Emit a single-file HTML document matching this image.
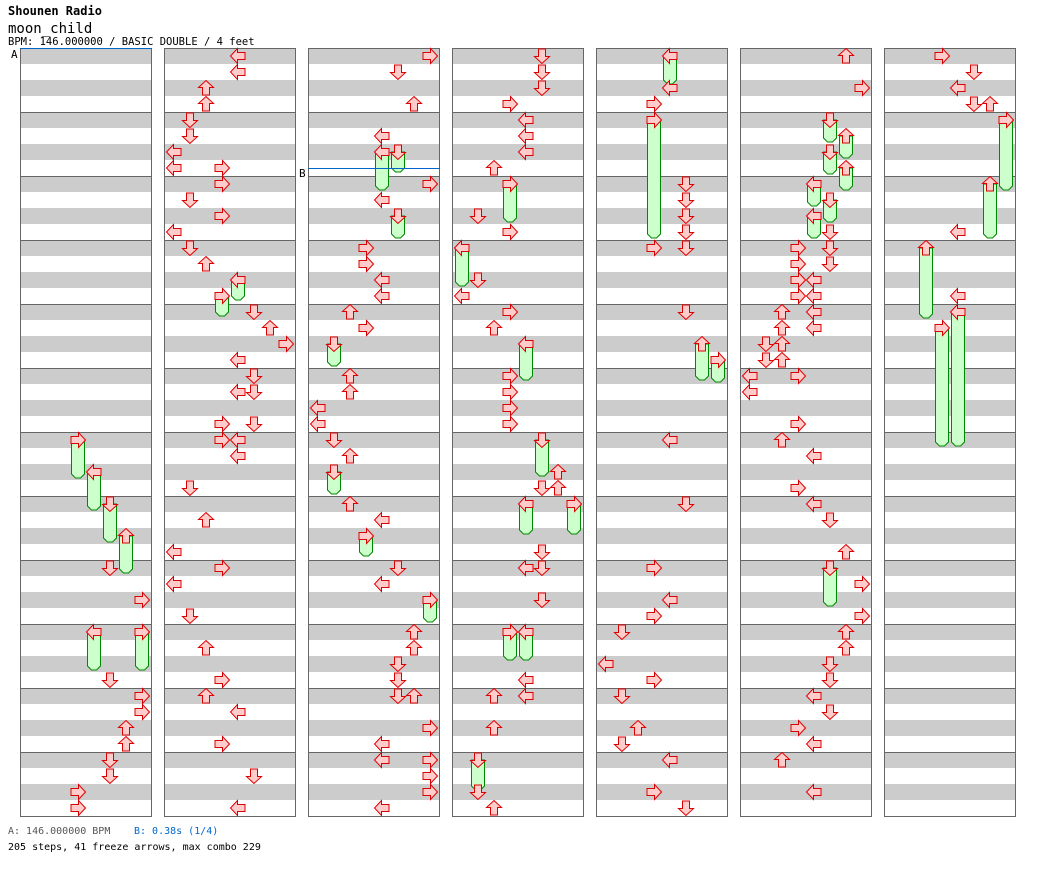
<!DOCTYPE html>
<html><head><meta charset="utf-8"><style>
body{margin:0;background:#fff;width:1040px;height:876px;overflow:hidden;font-family:"DejaVu Sans Mono","Liberation Mono",monospace}
svg{position:absolute;left:0;top:0}
</style></head><body>
<svg id="s" width="1040" height="876" xmlns="http://www.w3.org/2000/svg" font-family="DejaVu Sans Mono, Liberation Mono, monospace"></svg>
<script>
var N=[
[[78,440,478],[94,472,510],[110,504,542],[126,536,573],[110,568],[142,600],[94,632,670],[142,632,670],[110,680],[142,696],[142,712],[126,728],[126,744],[110,760],[110,776],[78,792],[78,808]],
[[238,56],[238,72],[206,88],[206,104],[190,120],[190,136],[174,152],[174,168],[222,168],[222,184],[190,200],[222,216],[174,232],[190,248],[206,264],[238,280,300],[222,296,316],[254,312],[270,328],[286,344],[238,360],[254,376],[238,392],[254,392],[222,424],[254,424],[222,440],[238,440],[238,456],[190,488],[206,520],[174,552],[222,568],[174,584],[190,616],[206,648],[222,680],[206,696],[238,712],[222,744],[254,776],[238,808]],
[[430,56],[398,72],[414,104],[382,136],[382,152,190],[398,152,172],[430,184],[382,200],[398,216,238],[366,248],[366,264],[382,280],[382,296],[350,312],[366,328],[334,344,366],[350,376],[350,392],[318,408],[318,424],[334,440],[350,456],[334,472,494],[350,504],[382,520],[366,536,556],[398,568],[382,584],[430,600,622],[414,632],[414,648],[398,664],[398,680],[398,696],[414,696],[430,728],[382,744],[382,760],[430,760],[430,776],[430,792],[382,808]],
[[542,56],[542,72],[542,88],[510,104],[526,120],[526,136],[526,152],[494,168],[510,184,222],[478,216],[510,232],[462,248,286],[478,280],[462,296],[510,312],[494,328],[526,344,380],[510,376],[510,392],[510,408],[510,424],[542,440,476],[558,472],[542,488],[558,488],[526,504,534],[574,504,534],[542,552],[526,568],[542,568],[542,600],[510,632,660],[526,632,660],[526,680],[494,696],[526,696],[494,728],[478,760,790],[478,792],[494,808]],
[[670,56,84],[670,88],[654,104],[654,120,238],[686,184],[686,200],[686,216],[686,232],[654,248],[686,248],[686,312],[702,344,380],[718,360,382],[670,440],[686,504],[654,568],[670,600],[654,616],[622,632],[606,664],[654,680],[622,696],[638,728],[622,744],[670,760],[654,792],[686,808]],
[[846,56],[862,88],[830,120,142],[846,136,158],[830,152,174],[846,168,190],[814,184,206],[830,200,222],[814,216,238],[830,232],[798,248],[830,248],[830,264],[798,264],[798,280],[814,280],[798,296],[814,296],[814,312],[782,312],[782,328],[814,328],[766,344],[782,344],[766,360],[782,360],[750,376],[798,376],[750,392],[798,424],[782,440],[814,456],[798,488],[814,504],[830,520],[846,552],[830,568,606],[862,584],[862,616],[846,632],[846,648],[830,664],[830,680],[814,696],[830,712],[798,728],[814,744],[782,760],[814,792]],
[[942,56],[974,72],[958,88],[974,104],[990,104],[1006,120,190],[990,184,238],[958,232],[926,248,318],[958,296],[958,312,446],[942,328,446]]
];
var h='';
for(var c=0;c<7;c++){var X=20+144*c;
for(var m=0;m<12;m++){var Y=48+64*m;h+='<rect x="'+X+'" y="'+Y+'" width="132" height="16" fill="#ccc"/><rect x="'+X+'" y="'+(Y+32)+'" width="132" height="16" fill="#ccc"/>';}
for(var m=1;m<12;m++)h+='<line x1="'+X+'" x2="'+(X+132)+'" y1="'+(48.5+64*m)+'" y2="'+(48.5+64*m)+'" stroke="#666"/>';
h+='<rect x="'+(X+.5)+'" y="48.5" width="131" height="768" fill="none" stroke="#666"/>';}
var rot=[0,-90,90,180];
var bodies='',heads='';
N.forEach(function(col,c){var X=20+144*c;col.forEach(function(n){var l=Math.round((n[0]-X-10)/16);var x=n[0],y=n[1];
if(n[2])bodies+='<path d="M'+(x-6.5)+' '+y+'V'+(n[2]-4)+'L'+(x-2.5)+' '+n[2]+'H'+(x+2.5)+'L'+(x+6.5)+' '+(n[2]-4)+'V'+y+'Z" fill="#cfc" stroke="#080"/>';
heads+='<path transform="translate('+x+' '+y+') rotate('+rot[l%4]+')" d="M-7.5 0L-0.5 -7.5V-3.5H7V3.5H-0.5V7.5Z" fill="#fcc" stroke="#d00"/>';});});
h+=bodies+heads;
h+='<line x1="20" x2="152" y1="48.5" y2="48.5" stroke="#06c"/><line x1="308" x2="440" y1="168.5" y2="168.5" stroke="#06c"/>';
h+='<text x="11" y="58" font-size="11">A</text><text x="299" y="177" font-size="11">B</text>';
h+='<text x="8" y="15" font-size="12" font-weight="bold">Shounen Radio</text><text x="8" y="33" font-size="14">moon_child</text><text x="8" y="45" font-size="10.5">BPM: 146.000000 / BASIC DOUBLE / 4 feet</text>';
h+='<text x="8" y="834" font-size="10" fill="#555">A: 146.000000 BPM</text><text x="134" y="834" font-size="10" fill="#06c">B: 0.38s (1/4)</text><text x="8" y="850" font-size="10">205 steps, 41 freeze arrows, max combo 229</text>';
document.getElementById('s').innerHTML=h;
</script>
</body></html>
